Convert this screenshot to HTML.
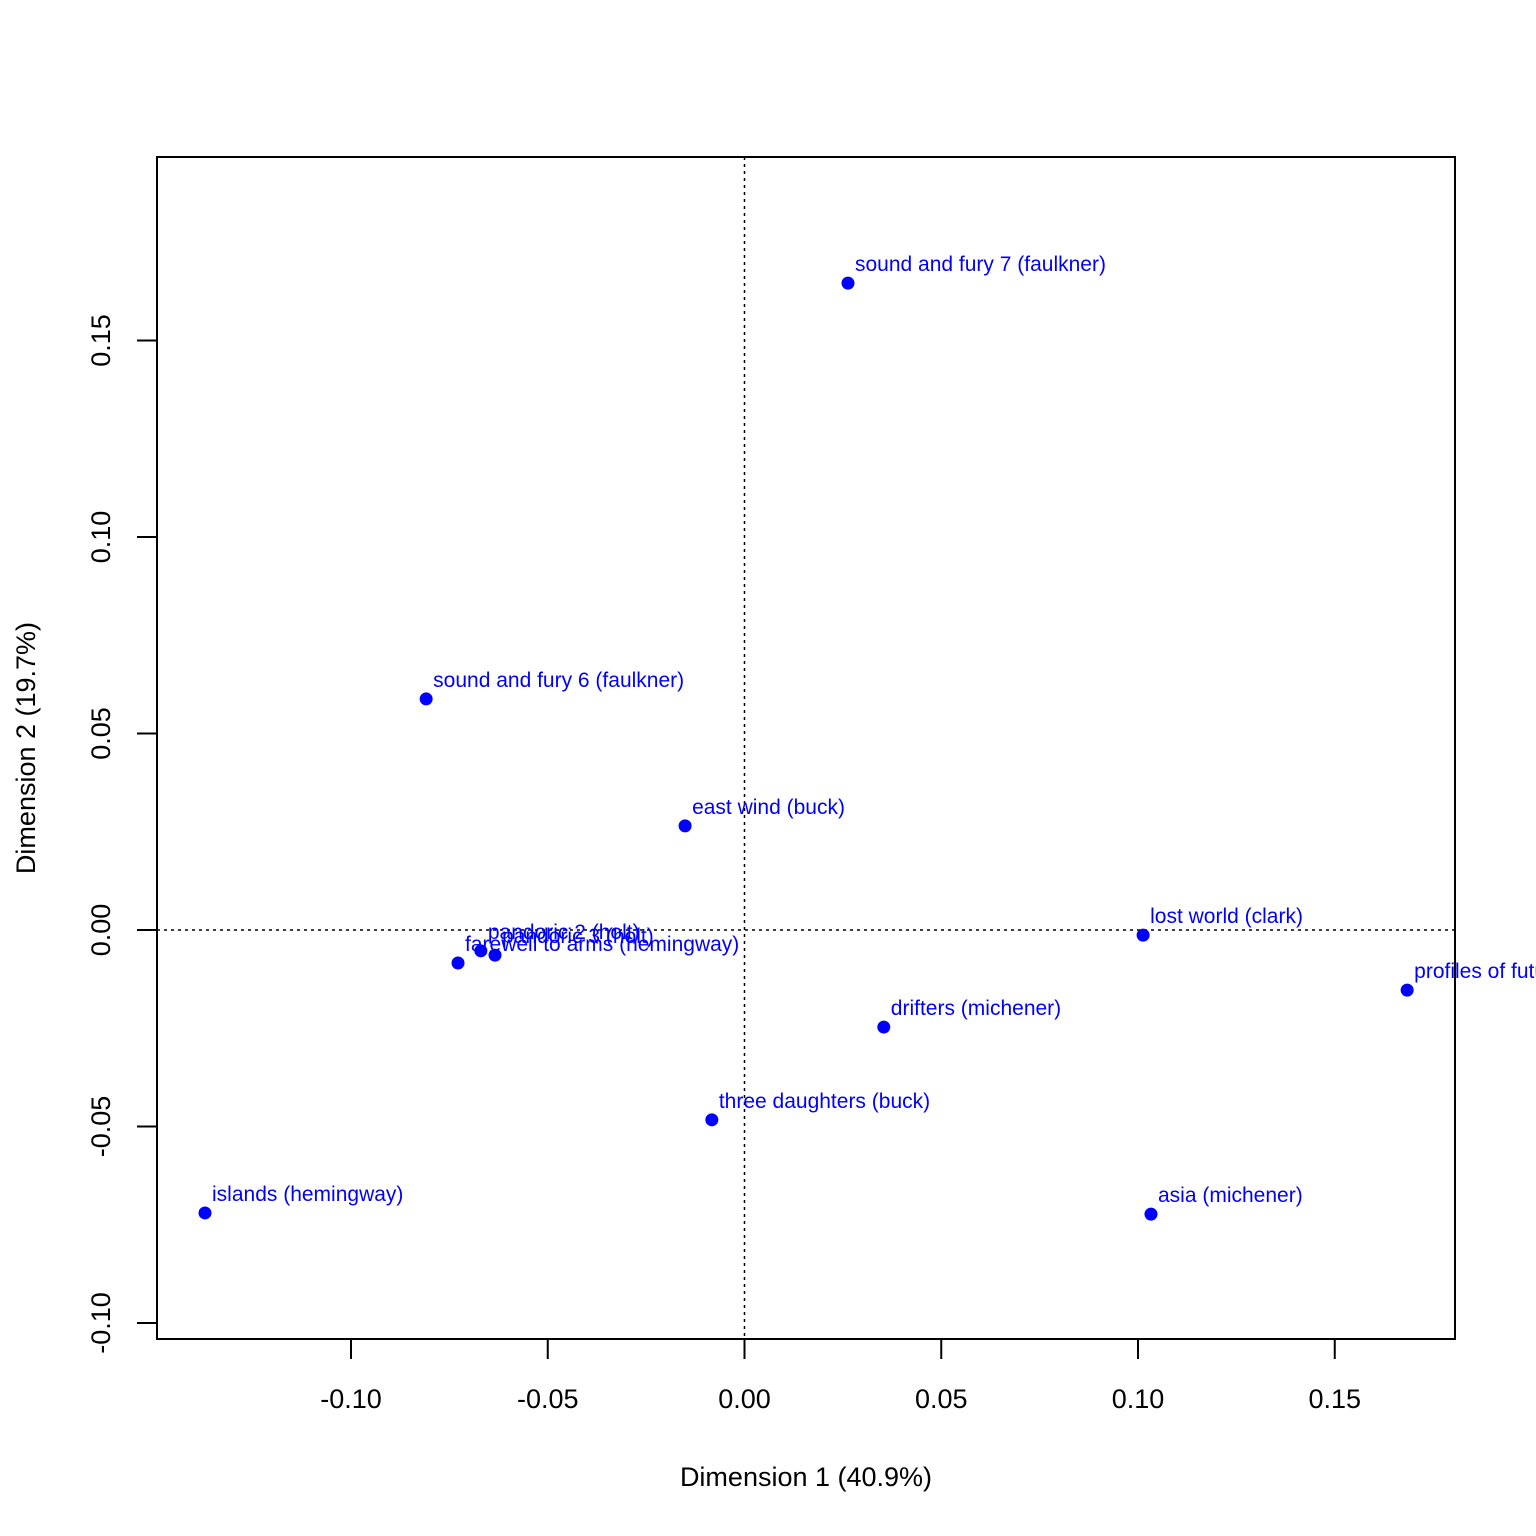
<!DOCTYPE html>
<html><head><meta charset="utf-8"><style>
html,body{margin:0;padding:0;background:#fff;}
svg{display:block;font-family:"Liberation Sans",Arial,sans-serif;}
</style></head><body>
<svg id="chart" width="1536" height="1536" viewBox="0 0 1536 1536">
<rect x="0" y="0" width="1536" height="1536" fill="#fff"/>
<g id="axes"></g>
<g id="marks"></g>
</svg>
<script>
const labels = ["sound and fury 7 (faulkner)","sound and fury 6 (faulkner)","east wind (buck)","lost world (clark)","profiles of future (clark)","drifters (michener)","three daughters (buck)","asia (michener)","islands (hemingway)","farewell to arms (hemingway)","pandoric 2 (holt)","pandoric 3 (holt)"];
const dim1 = [0.0263,-0.0809,-0.0151,0.1013,0.1684,0.0354,-0.0083,0.1033,-0.1371,-0.0728,-0.0670,-0.0634];
const dim2 = [0.1646,0.0588,0.0265,-0.0013,-0.0153,-0.0247,-0.0483,-0.0723,-0.0720,-0.0084,-0.0053,-0.0064];
const xTicks = [-0.10,-0.05,0.00,0.05,0.10,0.15];
const yTicks = [-0.10,-0.05,0.00,0.05,0.10,0.15];
const xTickLabels = ["-0.10","-0.05","0.00","0.05","0.10","0.15"];
const yTickLabels = ["-0.10","-0.05","0.00","0.05","0.10","0.15"];

const NS="http://www.w3.org/2000/svg";
const L=157,R=1455,T=157,B=1339;
function sx(v){return 744.5+v*3935;}
function sy(v){return 930-v*3930;}
function mk(tag,attrs,parent){const e=document.createElementNS(NS,tag);for(const k in attrs)e.setAttribute(k,attrs[k]);parent.appendChild(e);return e;}
const axes=document.getElementById('axes'), marks=document.getElementById('marks');

let box=mk('rect',{x:L,y:T,width:R-L,height:B-T,fill:'none',stroke:'#000','stroke-width':2},axes);



let vl=mk('line',{x1:sx(0),x2:sx(0),y1:T,y2:B,stroke:'#000','stroke-width':1.5,'stroke-dasharray':'3,4'},axes);


let hl=mk('line',{x1:L,x2:R,y1:sy(0),y2:sy(0),stroke:'#000','stroke-width':1.5,'stroke-dasharray':'3,4'},axes);



xTicks.forEach((v,i)=>{
  const x=sx(v);
  let t=mk('line',{x1:x,x2:x,y1:B,y2:B+20,stroke:'#000','stroke-width':2},axes);
  
  
  let tx=mk('text',{x:x,y:1408,'text-anchor':'middle','font-size':27,fill:'#000'},axes);
  tx.textContent=xTickLabels[i];
  
  
});
yTicks.forEach((v,i)=>{
  const y=sy(v);
  let t=mk('line',{x1:L-20,x2:L,y1:y,y2:y,stroke:'#000','stroke-width':2},axes);
  
  
  let tx=mk('text',{x:0,y:0,'text-anchor':'middle','font-size':27,fill:'#000',transform:`translate(110,${y}) rotate(-90)`},axes);
  tx.textContent=yTickLabels[i];
  
  
});
let xt=mk('text',{x:806,y:1486,'text-anchor':'middle','font-size':27,fill:'#000'},axes);
xt.textContent='Dimension 1 (40.9%)';


let yt=mk('text',{x:0,y:0,'text-anchor':'middle','font-size':27,fill:'#000',transform:'translate(35,748) rotate(-90)'},axes);
yt.textContent='Dimension 2 (19.7%)';



labels.forEach((lab,i)=>{
  const x=sx(dim1[i]), y=sy(dim2[i]);
  let c=mk('circle',{cx:x,cy:y,r:6.5,fill:'#0000ff'},marks);
  
  
  let t=mk('text',{x:x+7,y:y-12,'font-size':21,fill:'#0000ff'},marks);
  t.textContent=lab;
  
  
});
</script>
</body></html>
